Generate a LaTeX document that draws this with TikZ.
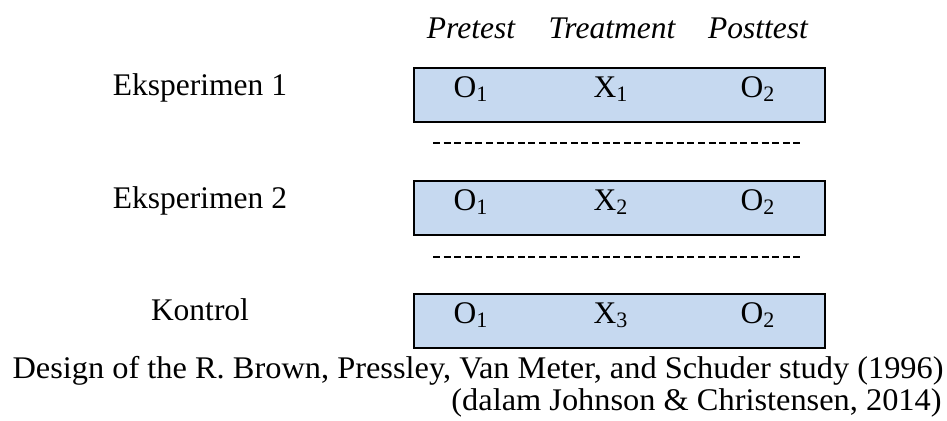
\documentclass[tikz,border=0pt]{standalone}
\usepackage{fontspec}
\setmainfont{Liberation Serif}
\usepackage{tikz}
\definecolor{boxblue}{RGB}{198,217,240}

\begin{document}
\begin{tikzpicture}[x=0.5pt,y=-0.5pt,
  txt/.style={inner sep=0pt,anchor=base,font=\fontsize{15.75}{18}\selectfont},
  hdr/.style={txt,font=\fontsize{15.75}{18}\selectfont\itshape},
  grpbox/.style={draw=black,line width=1pt,fill=boxblue,minimum width=205.5pt,
    minimum height=27pt,inner sep=0pt,anchor=north west},
  sepline/.style={line width=1.35pt,dash pattern=on 3.5pt off 1.8pt}]
 \useasboundingbox (0,0) rectangle (947,420);
 % column heads
 \node[hdr] (pre) at (471,38) {Pretest};
 \node[hdr] (treat) at (612,38) {Treatment};
 \node[hdr] (post) at (758,38) {Posttest};
 % group 1
 \node[txt] (eks1) at (200,95) {Eksperimen 1};
 \node[grpbox] (box1) at (413,67) {};
 \node[txt] (o1a) at (471,97) {O\textsubscript{1}};
 \node[txt] (x1) at (611,97) {X\textsubscript{1}};
 \node[txt] (o1b) at (758,97) {O\textsubscript{2}};
 \draw[sepline] (433,143) -- (803,143);
 % group 2
 \node[txt] (eks2) at (200,208) {Eksperimen 2};
 \node[grpbox] (box2) at (413,180) {};
 \node[txt] (o2a) at (471,210) {O\textsubscript{1}};
 \node[txt] (x2) at (611,210) {X\textsubscript{2}};
 \node[txt] (o2b) at (758,210) {O\textsubscript{2}};
 \draw[sepline] (433,257) -- (803,257);
 % control
 \node[txt] (kon) at (200,320) {Kontrol};
 \node[grpbox] (box3) at (413,293) {};
 \node[txt] (o3a) at (471,323) {O\textsubscript{1}};
 \node[txt] (x3) at (611,323) {X\textsubscript{3}};
 \node[txt] (o3b) at (758,323) {O\textsubscript{2}};
 % caption
 \node[txt,anchor=base east] (cap1) at (944,378) {\scalebox{1.028}[1]{Design of the R. Brown, Pressley, Van Meter, and Schuder study (1996)}};
 \node[txt,anchor=base east] (cap2) at (942,410) {\scalebox{1.028}[1]{(dalam Johnson \& Christensen, 2014)}};
\end{tikzpicture}
\end{document}
